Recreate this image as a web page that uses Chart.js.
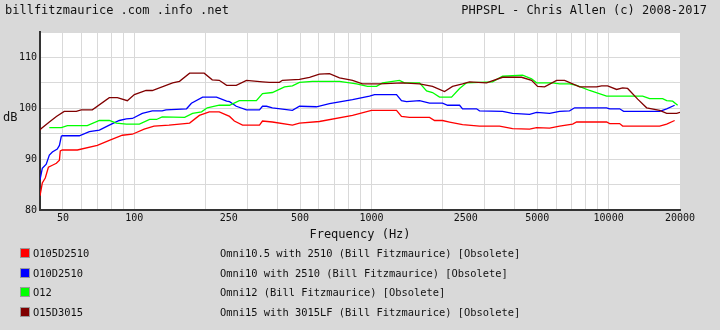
<!DOCTYPE html>
<html>
<head>
<meta charset="utf-8">
<script src="https://cdn.jsdelivr.net/npm/chart.js@4"></script>
<style>
  body { margin: 0; background: #d9d9d9; font-family: "DejaVu Sans Mono", monospace; color: #111; }
  #wrap { position: relative; width: 720px; height: 330px; overflow: hidden; }
  #chart { position: absolute; left: 0; top: 0; }
  .txt { position: absolute; white-space: pre; }
  .hdr { font-size: 12px; line-height: 14px; top: 3px; }
  .leg { font-size: 10.4px; line-height: 12px; }
  .sq { position: absolute; width: 10px; height: 10px; box-sizing: border-box; border: 1px solid #999; }
</style>
</head>
<body>
<div id="wrap">
  <canvas id="chart" width="720" height="330"></canvas>
  <div class="txt hdr" style="left:5px">billfitzmaurice .com .info .net</div>
  <div class="txt hdr" style="right:13px">PHPSPL - Chris Allen (c) 2008-2017</div>
  <div class="txt" style="left:3px;top:110px;font-size:12px;line-height:14px">dB</div>
  <div id="legend"></div>
</div>
<script>
const seriesNames = ['O105D2510', 'O10D2510', 'O12', 'O15D3015']
const seriesDescs = [
  'Omni10.5 with 2510 (Bill Fitzmaurice) [Obsolete]',
  'Omni10 with 2510 (Bill Fitzmaurice) [Obsolete]',
  'Omni12 (Bill Fitzmaurice) [Obsolete]',
  'Omni15 with 3015LF (Bill Fitzmaurice) [Obsolete]'
]
const seriesColors = ['#ff0000', '#0000ff', '#00ff00', '#800000']

// frequency (Hz) / level (dB) pairs
const redFreq = [40, 40.9, 42.1, 43.4, 45.1, 46.9, 48.3, 48.7, 49.7, 57.5,
  69.8, 78.4, 89, 98.1, 110, 121, 140, 163, 171, 188,
  207, 228, 252, 264, 286, 337, 347, 382, 464, 497,
  603, 832, 1000, 1275, 1338, 1447, 1757, 1845, 1994, 2134,
  2421, 2855, 3468, 3935, 4642, 4969, 5638, 6212, 7050, 7329,
  9808, 10097, 11129, 11460, 16417, 17574, 18988]
const redDb = [82.8, 85.3, 86.3, 88.4, 88.8, 89.2, 89.8, 91.6, 91.8, 91.8,
  92.7, 93.7, 94.7, 94.9, 95.9, 96.5, 96.7, 97.0, 97.1, 98.6,
  99.3, 99.3, 98.4, 97.5, 96.7, 96.7, 97.5, 97.3, 96.7, 97.1,
  97.4, 98.6, 99.6, 99.6, 98.4, 98.2, 98.2, 97.6, 97.6, 97.3,
  96.8, 96.5, 96.5, 96.0, 95.9, 96.2, 96.1, 96.5, 96.9, 97.3,
  97.3, 97.0, 97.0, 96.5, 96.5, 96.9, 97.6]

const blueFreq = [40, 40.9, 42.5, 43.8, 45.1, 47.3, 48.3, 49.2, 49.7, 58.6,
  64.6, 71.2, 78.4, 86.4, 92.5, 98.1, 108, 119, 131, 136,
  166, 174, 194, 222, 245, 252, 269, 297, 337, 347,
  361, 382, 464, 497, 586, 665, 832, 981, 1030, 1275,
  1338, 1405, 1594, 1757, 1994, 2093, 2352, 2421, 2773, 2855,
  3570, 3935, 4642, 4969, 5638, 6212, 6845, 7188, 9808, 10097,
  11129, 11571, 16417, 17574, 18988]
const blueDb = [85.9, 88.2, 89.0, 90.8, 91.4, 92.0, 92.7, 94.5, 94.6, 94.6,
  95.4, 95.7, 96.7, 97.6, 97.9, 98.0, 99.0, 99.5, 99.5, 99.7,
  99.9, 101.0, 102.2, 102.2, 101.4, 101.3, 100.4, 99.7, 99.7, 100.4,
  100.4, 100.1, 99.6, 100.4, 100.3, 100.9, 101.7, 102.4, 102.7, 102.7,
  101.5, 101.3, 101.5, 101.0, 101.0, 100.6, 100.6, 99.9, 99.9, 99.5,
  99.4, 99.0, 98.8, 99.2, 99.0, 99.4, 99.5, 100.1, 100.1, 99.9,
  99.9, 99.4, 99.4, 99.9, 100.6]

const greenFreq = [43.8, 49.2, 52.2, 63.3, 71.2, 78.4, 84.0, 92.5, 105, 116,
  124, 131, 163, 176, 192, 203, 228, 252, 277, 327,
  347, 382, 430, 464, 497, 564, 733, 865, 962, 1050,
  1113, 1312, 1378, 1594, 1707, 1809, 1936, 2176, 2352, 2517,
  3239, 3570, 4337, 4733, 4969, 5803, 6212, 6845, 7329, 8315,
  9808, 11911, 13918, 14894, 16901, 17574, 18621, 19549]
const greenDb = [96.2, 96.2, 96.6, 96.6, 97.6, 97.6, 97.1, 96.9, 96.9, 97.8,
  97.8, 98.3, 98.2, 99.0, 99.3, 100.1, 100.6, 100.6, 101.5, 101.5,
  102.9, 103.1, 104.2, 104.4, 105.1, 105.3, 105.3, 104.8, 104.3, 104.3,
  105.0, 105.5, 105.0, 105.0, 103.4, 103.1, 102.2, 102.2, 103.9, 105.0,
  105.2, 106.3, 106.5, 105.8, 105.0, 105.0, 104.8, 104.8, 104.5, 103.5,
  102.4, 102.4, 102.4, 101.9, 101.9, 101.5, 101.4, 100.6]

const maroonFreq = [40, 40.4, 43.8, 46.9, 50.6, 56.9, 59.7, 66.5, 78.4, 84.8,
  93.4, 100, 112, 119, 145, 155, 171, 197, 213, 228,
  245, 269, 297, 347, 371, 409, 421, 497, 548, 603,
  665, 733, 832, 916, 1081, 1351, 1594, 1809, 2032, 2197,
  2421, 2591, 3056, 3570, 4296, 4733, 5017, 5370, 6034, 6522,
  7545, 8902, 9343, 9904, 10810, 11460, 12029, 13260, 14466, 16417,
  17574, 19362, 20000]
const maroonDb = [95.7, 96.0, 97.3, 98.4, 99.4, 99.4, 99.7, 99.7, 102.1, 102.1,
  101.5, 102.7, 103.5, 103.5, 105.0, 105.3, 106.9, 106.9, 105.6, 105.5,
  104.5, 104.5, 105.5, 105.2, 105.1, 105.1, 105.5, 105.7, 106.1, 106.7,
  106.8, 106.0, 105.5, 104.8, 104.8, 105.0, 104.8, 104.3, 103.3, 104.3,
  104.8, 105.2, 105.0, 106.1, 106.1, 105.5, 104.3, 104.2, 105.5, 105.5,
  104.2, 104.2, 104.4, 104.4, 103.7, 104.0, 103.9, 101.8, 100.1, 99.6,
  99.0, 99.0, 99.2]

const gridFreqs = [50, 60, 70, 80, 90, 100, 200, 300, 400, 500, 600, 700, 800, 900,
  1000, 2000, 3000, 4000, 5000, 6000, 7000, 8000, 9000, 10000, 20000]
const labelFreqs = [50, 100, 250, 500, 1000, 2500, 5000, 10000, 20000]

function toPoints(freqs, dbs) {
  return freqs.map((f, i) => ({ x: f, y: dbs[i] }))
}

const allTicks = [...new Set([...gridFreqs, ...labelFreqs])].sort((a, b) => a - b)
const monoFont = '"DejaVu Sans Mono", monospace'

const datasets = [
  [redFreq, redDb], [blueFreq, blueDb], [greenFreq, greenDb], [maroonFreq, maroonDb]
].map(([f, d], i) => ({
  label: seriesNames[i],
  data: toPoints(f, d),
  borderColor: seriesColors[i],
  borderWidth: 1.3,
  pointRadius: 0,
  fill: false,
  tension: 0,
  order: 3 - i
}))

// white plot area behind grid
const plotBg = {
  id: 'plotBg',
  beforeDraw(chart) {
    const a = chart.chartArea
    chart.ctx.save()
    chart.ctx.fillStyle = '#ffffff'
    chart.ctx.fillRect(a.left, a.top, a.right - a.left, a.bottom - a.top)
    chart.ctx.restore()
  }
}

new Chart(document.getElementById('chart'), {
  type: 'line',
  data: { datasets },
  plugins: [plotBg],
  options: {
    responsive: false,
    animation: false,
    devicePixelRatio: 1,
    layout: { padding: { top: 32, left: 0, right: 40, bottom: 90 } },
    plugins: { legend: { display: false }, tooltip: { enabled: false } },
    scales: {
      x: {
        type: 'logarithmic',
        min: 40,
        max: 20000,
        afterBuildTicks: (scale) => { scale.ticks = allTicks.map(v => ({ value: v })) },
        afterFit: (scale) => { scale.height = 30 },
        grid: {
          drawTicks: false,
          color: (ctx) => gridFreqs.includes(ctx.tick && ctx.tick.value) ? '#d9d9d9' : 'rgba(0,0,0,0)'
        },
        border: { color: '#333', width: 2 },
        ticks: {
          autoSkip: false,
          maxRotation: 0,
          padding: 2,
          color: '#111',
          font: { family: monoFont, size: 10 },
          callback: (v) => labelFreqs.includes(v) ? String(v) : ''
        },
        title: {
          display: true,
          text: 'Frequency (Hz)',
          color: '#111',
          font: { family: monoFont, size: 12 },
          padding: { top: 0, bottom: -2 }
        }
      },
      y: {
        min: 80,
        max: 115,
        afterFit: (scale) => { scale.width = 40 },
        grid: { drawTicks: false, color: '#d9d9d9' },
        border: { color: '#333', width: 2 },
        ticks: {
          stepSize: 5,
          padding: 3,
          color: '#111',
          font: { family: monoFont, size: 10 },
          callback: (v) => v % 10 === 0 ? String(v) : ''
        }
      }
    }
  }
})

// legend rows under the chart
const legend = document.getElementById('legend')
seriesNames.forEach((name, i) => {
  const mid = 253 + i * 19.7
  legend.insertAdjacentHTML('beforeend',
    `<div class="sq" style="left:20px;top:${mid - 5}px;background:${seriesColors[i]}"></div>` +
    `<div class="txt leg" style="left:33px;top:${mid - 6}px">${name}</div>` +
    `<div class="txt leg" style="left:220px;top:${mid - 6}px">${seriesDescs[i]}</div>`)
})
</script>
</body>
</html>
